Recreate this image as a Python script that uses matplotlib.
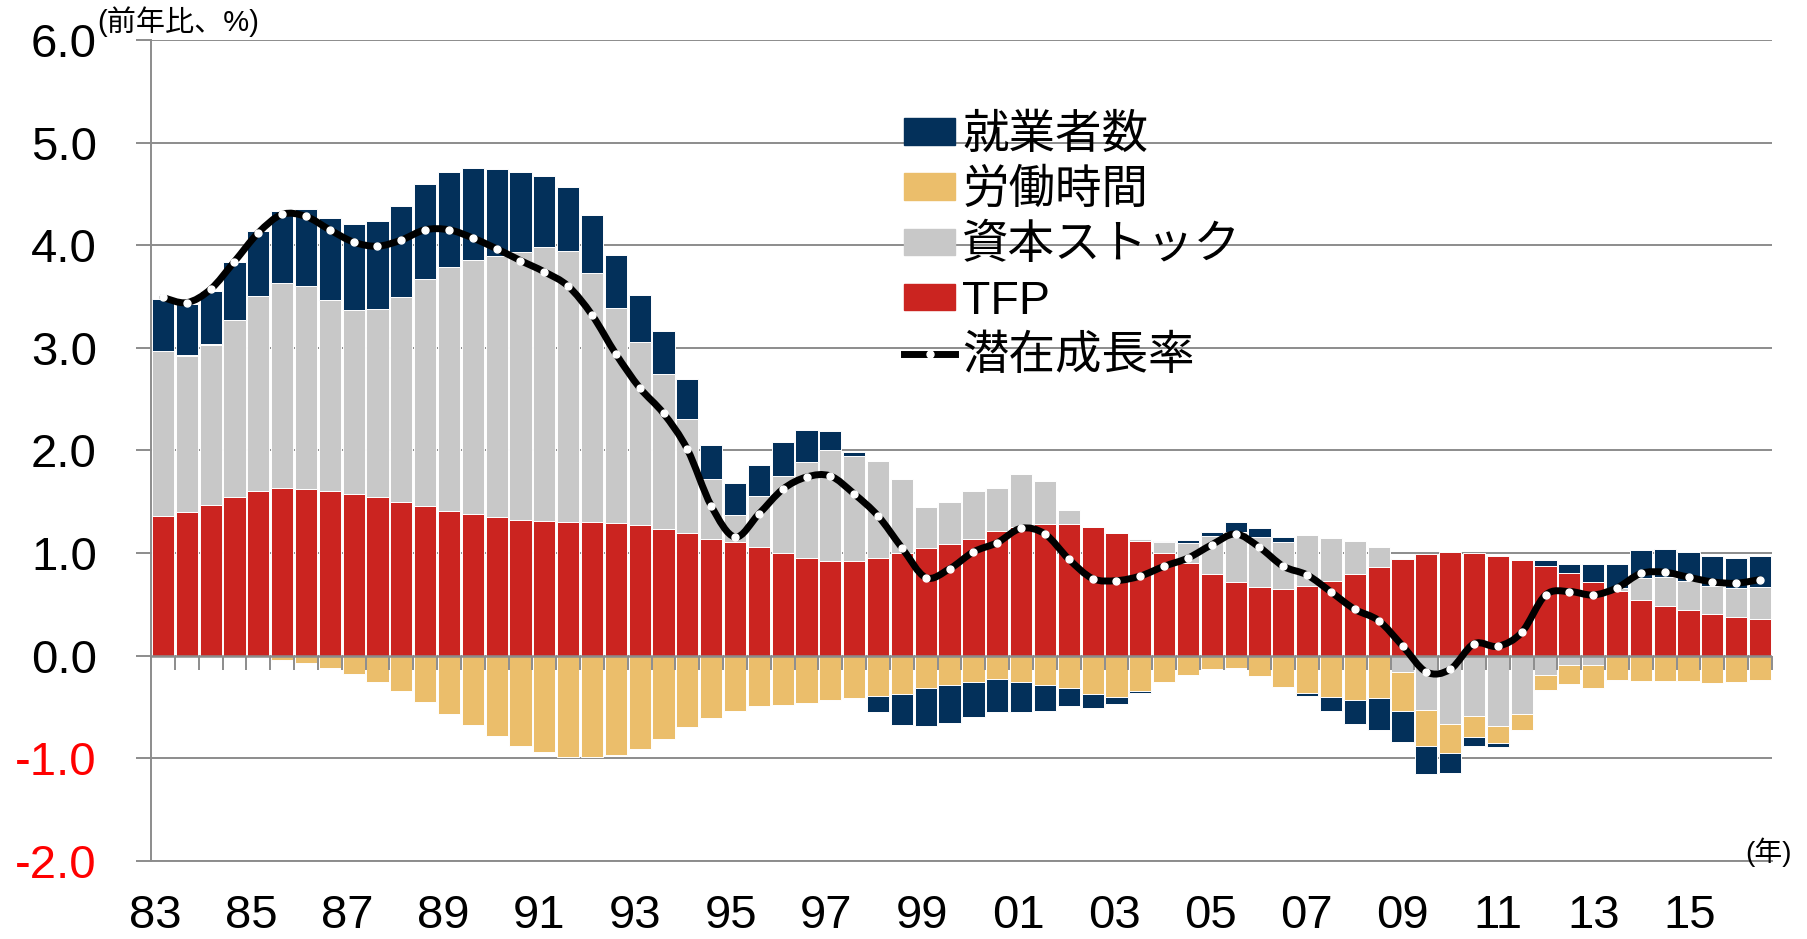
import numpy as np
import matplotlib
matplotlib.use('Agg')
import matplotlib.pyplot as plt
from matplotlib.path import Path
from matplotlib.patches import PathPatch, Patch
from matplotlib.lines import Line2D

plt.rcParams['font.family'] = ['Liberation Sans', 'Noto Sans CJK JP']

# half-year periods 1983H1 .. 2016H2
periods = [f'{y}H{h}' for y in range(1983, 2017) for h in (1, 2)]
year_labels = ['83', '85', '87', '89', '91', '93', '95', '97', '99',
               '01', '03', '05', '07', '09', '11', '13', '15']

# contributions (percentage points)
tfp = [1.36, 1.40, 1.47, 1.55, 1.60, 1.63, 1.62, 1.60, 1.57, 1.545, 1.50, 1.46,
       1.41, 1.38, 1.35, 1.32, 1.31, 1.30, 1.30, 1.29, 1.27, 1.23, 1.195, 1.14,
       1.11, 1.055, 1.00, 0.95, 0.92, 0.92, 0.95, 1.00, 1.045, 1.09, 1.14, 1.21,
       1.25, 1.28, 1.28, 1.25, 1.195, 1.115, 1.00, 0.90, 0.79, 0.72, 0.665, 0.65,
       0.675, 0.73, 0.79, 0.865, 0.94, 0.985, 1.01, 1.00, 0.97, 0.935, 0.877, 0.80,
       0.72, 0.627, 0.543, 0.481, 0.442, 0.403, 0.377, 0.357]
capital = [1.61, 1.52, 1.56, 1.72, 1.90, 2.005, 1.978, 1.867, 1.802, 1.831, 1.996, 2.215,
           2.379, 2.478, 2.548, 2.612, 2.668, 2.648, 2.426, 2.099, 1.789, 1.516, 1.108, 0.577,
           0.262, 0.496, 0.752, 0.939, 1.079, 1.027, 0.95, 0.717, 0.402, 0.403, 0.46, 0.426,
           0.519, 0.42, 0.134, 0.0, 0.0, 0.023, 0.105, 0.198, 0.373, 0.484, 0.49, 0.461,
           0.496, 0.414, 0.327, 0.192, -0.157, -0.53, -0.665, -0.589, -0.688, -0.571, -0.19, -0.09,
           -0.095, 0.03, 0.214, 0.282, 0.289, 0.279, 0.283, 0.312]
hours = [0.0, 0.01, 0.01, 0.0, -0.01, -0.04, -0.076, -0.117, -0.18, -0.257, -0.35, -0.455,
         -0.571, -0.682, -0.787, -0.88, -0.945, -0.985, -0.985, -0.968, -0.915, -0.81, -0.70, -0.606,
         -0.536, -0.49, -0.478, -0.466, -0.437, -0.414, -0.397, -0.373, -0.321, -0.286, -0.257, -0.233,
         -0.257, -0.29, -0.315, -0.379, -0.402, -0.344, -0.257, -0.187, -0.134, -0.122, -0.198, -0.303,
         -0.362, -0.408, -0.431, -0.414, -0.385, -0.35, -0.286, -0.21, -0.169, -0.152, -0.15, -0.19,
         -0.22, -0.24, -0.244, -0.244, -0.253, -0.27, -0.26, -0.234]
employment = [0.506, 0.50, 0.515, 0.567, 0.636, 0.70, 0.752, 0.80, 0.834, 0.857, 0.89, 0.922,
              0.92, 0.892, 0.845, 0.781, 0.696, 0.622, 0.571, 0.512, 0.456, 0.42, 0.391, 0.338,
              0.31, 0.303, 0.333, 0.309, 0.187, 0.035, -0.151, -0.303, -0.367, -0.373, -0.343, -0.315,
              -0.291, -0.246, -0.181, -0.128, -0.07, -0.023, 0.012, 0.029, 0.041, 0.10, 0.087, 0.047,
              -0.028, -0.134, -0.24, -0.315, -0.303, -0.274, -0.198, -0.087, -0.035, 0.0, 0.05, 0.097,
              0.175, 0.236, 0.273, 0.277, 0.276, 0.293, 0.292, 0.302]
potential = [3.49, 3.44, 3.57, 3.84, 4.12, 4.30, 4.28, 4.15, 4.03, 3.99, 4.05, 4.15,
             4.15, 4.07, 3.965, 3.85, 3.74, 3.60, 3.32, 2.94, 2.61, 2.36, 2.01, 1.46,
             1.155, 1.38, 1.62, 1.74, 1.75, 1.575, 1.36, 1.05, 0.76, 0.845, 1.01, 1.10,
             1.24, 1.185, 0.94, 0.75, 0.73, 0.775, 0.87, 0.95, 1.08, 1.185, 1.055, 0.87,
             0.785, 0.62, 0.45, 0.34, 0.095, -0.16, -0.135, 0.115, 0.09, 0.225, 0.59, 0.624,
             0.59, 0.66, 0.80, 0.812, 0.763, 0.718, 0.705, 0.741]

names = ['TFP', '資本ストック', '労働時間', '就業者数']
colors = ['#CB2420', '#C8C8C8', '#EBBE6B', '#03305A']
grey = '#8C8C8C'

fig = plt.figure(figsize=(18.07, 9.39), dpi=100)
ax = fig.add_axes([151 / 1807, 1 - 860.7 / 939, (1772 - 151) / 1807, 820.7 / 939])

x = np.arange(len(periods))
pos_base = np.zeros(len(x))
neg_base = np.zeros(len(x))
for vals, c in zip([tfp, capital, hours, employment], colors):
    v = np.array(vals)
    bottom = np.where(v >= 0, pos_base, neg_base)
    ax.bar(x, v, 0.93, bottom=bottom, color=c, edgecolor='white', linewidth=0.7, zorder=2)
    pos_base += np.where(v >= 0, v, 0)
    neg_base += np.where(v < 0, v, 0)

# zero line and category ticks
ax.axhline(0, color=grey, lw=1.8, zorder=3)
ax.vlines(np.arange(-0.5, len(x), 1), -0.14, 0, color=grey, lw=1.4, zorder=3, clip_on=False)

# smoothed potential growth line (Catmull-Rom through the points)
p = np.column_stack([x, potential]).astype(float)
verts = [p[0]]
codes = [Path.MOVETO]
for i in range(len(p) - 1):
    p0 = p[i - 1] if i > 0 else p[i]
    p3 = p[i + 2] if i + 2 < len(p) else p[i + 1]
    c1 = p[i] + (p[i + 1] - p0) / 6
    c2 = p[i + 1] - (p3 - p[i]) / 6
    verts += [c1, c2, p[i + 1]]
    codes += [Path.CURVE4] * 3
ax.add_patch(PathPatch(Path(verts, codes), fill=False, edgecolor='black', lw=5,
                       capstyle='round', joinstyle='round', zorder=4))
ax.plot(x, potential, 'o', ls='none', ms=5, mfc='white', mec='white', zorder=5)

ax.set_xlim(-0.5, len(x) - 0.5)
ax.set_ylim(-2, 6)
ax.set_yticks(np.arange(-2, 6.1, 1))
ax.set_yticklabels([f'{v:.1f}' for v in np.arange(-2, 6.1, 1)])
for lab, v in zip(ax.get_yticklabels(), np.arange(-2, 6.1, 1)):
    lab.set_color('#FF0000' if v < 0 else 'black')
ax.tick_params(axis='y', length=11, width=1.4, color=grey, pad=28, labelsize=34)

# year labels
lx = np.linspace(-0.33, 64.05, len(year_labels))
ax.set_xticks(lx)
ax.set_xticklabels(year_labels)
ax.tick_params(axis='x', length=0, pad=24, labelsize=34)

ax.yaxis.grid(True, color=grey, lw=1.4)
ax.set_axisbelow(True)
for s in ['top', 'right']:
    ax.spines[s].set_visible(False)
for s in ['left', 'bottom']:
    ax.spines[s].set_color(grey)
    ax.spines[s].set_linewidth(1.4)

handles = [Patch(color=colors[3]), Patch(color=colors[2]), Patch(color=colors[1]),
           Patch(color=colors[0]),
           Line2D([], [], color='black', lw=5, marker='o', ms=5, mfc='white', mec='white')]
labels = ['就業者数', '労働時間', '資本ストック', 'TFP', '潜在成長率']
ax.legend(handles, labels, loc='upper left', bbox_to_anchor=(904 / 1807, 1 - 114 / 939),
          bbox_transform=fig.transFigure, frameon=False, fontsize=33.5,
          handlelength=1.1, handleheight=0.5, handletextpad=0.15, labelspacing=0.24,
          borderpad=0, borderaxespad=0)

fig.text(97 / 1807, 1 - 6 / 939, '(前年比、%)', fontsize=21, ha='left', va='top')
fig.text(1792 / 1807, 1 - 852 / 939, '(年)', fontsize=20, ha='right', va='center')

fig.savefig('out.png', dpi=100)
